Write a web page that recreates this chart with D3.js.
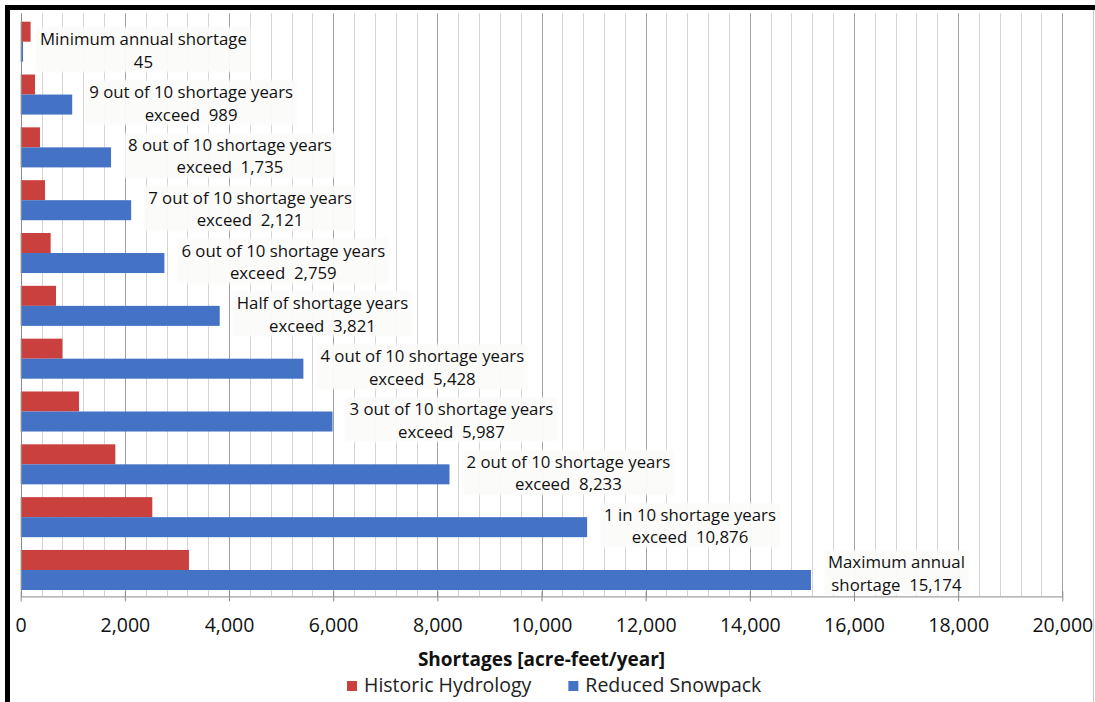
<!DOCTYPE html>
<html>
<head>
<meta charset="utf-8">
<script src="https://cdn.jsdelivr.net/npm/d3@7/dist/d3.min.js"></script>
<style>
  html, body { margin: 0; padding: 0; background: #ffffff; }
  svg { display: block; font-family: "Open Sans", "Noto Sans", sans-serif; }
  text { white-space: pre; }
</style>
</head>
<body>
<svg id="chart" width="1095" height="702"></svg>
<script>
// Shortage exceedance rows, top to bottom
const categories = [
  "Minimum annual shortage",
  "9 out of 10 shortage years",
  "8 out of 10 shortage years",
  "7 out of 10 shortage years",
  "6 out of 10 shortage years",
  "Half of shortage years",
  "4 out of 10 shortage years",
  "3 out of 10 shortage years",
  "2 out of 10 shortage years",
  "1 in 10 shortage years",
  "Maximum annual shortage"
];

const seriesNames = ["Historic Hydrology", "Reduced Snowpack"];

// Annual shortages, acre-feet/year
const historicHydrology = [190, 275, 370, 467, 575, 678, 800, 1120, 1817, 2527, 3231];
const reducedSnowpack   = [45, 989, 1735, 2121, 2759, 3821, 5428, 5987, 8233, 10876, 15174];

// Two-line value labels on the Reduced Snowpack bars
const labelFirstLine = [
  "Minimum annual shortage",
  "9 out of 10 shortage years",
  "8 out of 10 shortage years",
  "7 out of 10 shortage years",
  "6 out of 10 shortage years",
  "Half of shortage years",
  "4 out of 10 shortage years",
  "3 out of 10 shortage years",
  "2 out of 10 shortage years",
  "1 in 10 shortage years",
  "Maximum annual"
];
const labelValuePrefix = [
  "", "exceed  ", "exceed  ", "exceed  ", "exceed  ", "exceed  ",
  "exceed  ", "exceed  ", "exceed  ", "exceed  ", "shortage  "
];

const majorTicks = d3.range(0, 20001, 2000);
const minorTicks = d3.range(0, 20001, 400);

const xTitle = "Shortages [acre-feet/year]";

const colors = { "Historic Hydrology": "#c9403f", "Reduced Snowpack": "#4472c4" };

const svg = d3.select("#chart");

const plot = { left: 20.7, right: 1062.3, top: 15.3, bottom: 596.4 };

const x = d3.scaleLinear().domain([0, 20000]).range([plot.left, plot.right]);
const y = d3.scaleBand().domain(categories)
  .range([plot.top, plot.bottom])
  .paddingInner(0.242)
  .paddingOuter(0.121);
const ySub = d3.scaleBand().domain(seriesNames).range([0, y.bandwidth()]);

// soft edge for the label boxes
const defs = svg.append("defs");
defs.append("filter").attr("id", "soft")
  .attr("x", "-10%").attr("y", "-20%").attr("width", "120%").attr("height", "140%")
  .append("feGaussianBlur").attr("stdDeviation", 1.3);

// gridlines
const grid = svg.append("g");
grid.selectAll("line.minor").data(minorTicks.filter(v => v % 2000 !== 0)).join("line")
  .attr("class", "minor")
  .attr("x1", d => Math.round(x(d)) + 0.5).attr("x2", d => Math.round(x(d)) + 0.5)
  .attr("y1", plot.top - 2).attr("y2", plot.bottom)
  .attr("stroke", "#d4d4d4").attr("stroke-width", 1);
grid.selectAll("line.major").data(majorTicks.filter(v => v > 0)).join("line")
  .attr("class", "major")
  .attr("x1", d => Math.round(x(d)) + 0.5).attr("x2", d => Math.round(x(d)) + 0.5)
  .attr("y1", plot.top - 2).attr("y2", plot.bottom)
  .attr("stroke", "#a0a0a0").attr("stroke-width", 1);

// bars
const rows = categories.map((c, i) => ({
  category: c,
  values: [
    { series: "Historic Hydrology", value: historicHydrology[i] },
    { series: "Reduced Snowpack", value: reducedSnowpack[i] }
  ]
}));

const rowG = svg.append("g").selectAll("g").data(rows).join("g")
  .attr("transform", d => `translate(0,${y(d.category)})`);
rowG.selectAll("rect").data(d => d.values).join("rect")
  .attr("x", x(0))
  .attr("y", d => ySub(d.series))
  .attr("width", d => x(d.value) - x(0))
  .attr("height", ySub.bandwidth())
  .attr("fill", d => colors[d.series]);

// vertical category axis line
svg.append("line")
  .attr("x1", Math.round(x(0)) + 0.5).attr("x2", Math.round(x(0)) + 0.5)
  .attr("y1", plot.top - 2).attr("y2", plot.bottom)
  .attr("stroke", "#8a8a8a");

// value labels
const fmt = d3.format(",");
const labels = svg.append("g");
categories.forEach((c, i) => {
  const v = reducedSnowpack[i];
  const blueCenter = y(c) + ySub("Reduced Snowpack") + ySub.bandwidth() / 2;
  const half = 22.5;
  const cy = Math.min(blueCenter - 2, plot.bottom - half - 1);
  const g = labels.append("g");
  const box = g.append("rect").attr("fill", "#fbfbfa").attr("opacity", 0.95)
    .attr("filter", "url(#soft)");
  const t1 = g.append("text").text(labelFirstLine[i])
    .attr("font-size", 16.8).attr("text-anchor", "middle")
    .attr("dominant-baseline", "central").attr("y", cy - 11).attr("fill", "#111");
  const t2 = g.append("text").text(labelValuePrefix[i] + fmt(v))
    .attr("font-size", 16.8).attr("text-anchor", "middle")
    .attr("dominant-baseline", "central").attr("y", cy + 11.5).attr("fill", "#111");
  const w = Math.max(t1.node().getComputedTextLength(), t2.node().getComputedTextLength()) + 8;
  const left = x(v) + 13;
  const cx = left + w / 2;
  t1.attr("x", cx); t2.attr("x", cx);
  box.attr("x", left).attr("y", cy - half).attr("width", w).attr("height", half * 2);
});

// horizontal value axis
const axis = d3.axisBottom(x).tickValues(majorTicks).tickFormat(fmt).tickSizeOuter(0);
const axG = svg.append("g").attr("transform", `translate(0,${plot.bottom})`).call(axis);
axG.select(".domain").attr("stroke", "#8a8a8a");
axG.selectAll(".tick line").attr("y1", -5).attr("y2", 5).attr("stroke", "#8a8a8a");
axG.selectAll(".tick text")
  .attr("y", 36).attr("dy", null)
  .attr("font-family", "Open Sans, sans-serif").attr("font-size", 19.5).attr("fill", "#111");

// axis title
svg.append("text")
  .attr("x", (plot.left + plot.right) / 2).attr("y", 666)
  .attr("text-anchor", "middle").attr("font-size", 19).attr("font-weight", "bold")
  .attr("fill", "#111").text(xTitle);

// legend
const legend = svg.append("g");
let lx = 347;
seriesNames.forEach(name => {
  legend.append("rect").attr("x", lx).attr("y", 681).attr("width", 10).attr("height", 10)
    .attr("fill", colors[name]);
  const t = legend.append("text").attr("x", lx + 17).attr("y", 692)
    .attr("font-size", 19.5).attr("fill", "#222").text(name);
  lx += 17 + t.node().getComputedTextLength() + 37;
});

// outer frame
svg.append("rect").attr("x", 5).attr("y", 5).attr("width", 1090).attr("height", 5).attr("fill", "#000");
svg.append("rect").attr("x", 5).attr("y", 5).attr("width", 5).attr("height", 697).attr("fill", "#000");
svg.append("line").attr("x1", 1093.5).attr("x2", 1093.5).attr("y1", 10).attr("y2", 702)
  .attr("stroke", "#c8c8c8");
</script>
</body>
</html>
